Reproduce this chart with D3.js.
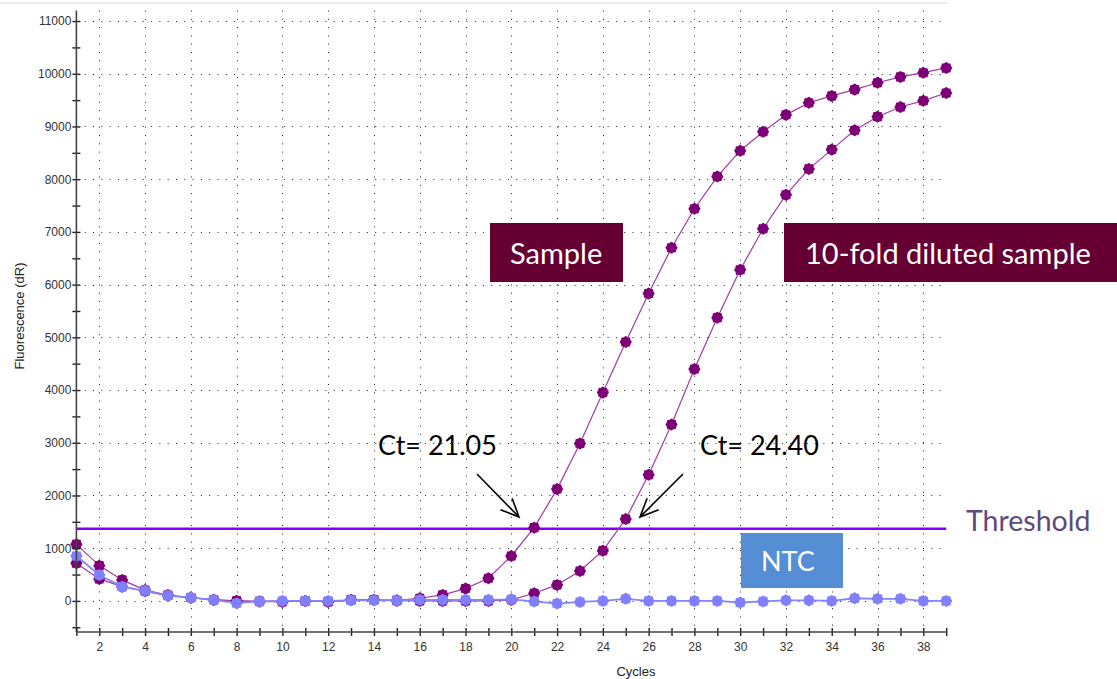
<!DOCTYPE html>
<html>
<head>
<meta charset="utf-8">
<script src="https://cdn.jsdelivr.net/npm/d3@7"></script>
<style>
    body { margin: 0; background: #ffffff; }
    #chart-svg { display: block; }
    .tick-label { font-family: "Liberation Sans", Arial, sans-serif; font-size: 12px; fill: #333; }
    .axis-title { font-family: "Liberation Sans", Arial, sans-serif; font-size: 13px; fill: #222; }
    .note { font-family: Lato, "Open Sans", sans-serif; }
</style>
</head>
<body>
<svg id="chart-svg" width="1117" height="679"></svg>
<script>
// Cycle numbers on the x axis
var cycles = [1, 2, 3, 4, 5, 6, 7, 8, 9, 10, 11, 12, 13, 14, 15, 16, 17, 18, 19, 20,
    21, 22, 23, 24, 25, 26, 27, 28, 29, 30, 31, 32, 33, 34, 35, 36, 37, 38, 39];

// Fluorescence (dR) per cycle
var sampleValues = [1073, 669, 398, 205, 110, 65, 20, 0, -10, -15, 0, -15, 20, 20, 10, 50,
    114, 233, 430, 852, 1389, 2121, 2986, 3952, 4911, 5830, 6700, 7440, 8050, 8540,
    8900, 9220, 9450, 9580, 9700, 9830, 9940, 10020, 10110];
var dilutedValues = [714, 417, 270, 185, 100, 60, 20, 0, -10, -15, 0, -15, 15, 15, 5, 0,
    0, 0, 0, 20, 146, 303, 568, 953, 1553, 2392, 3346, 4400, 5373, 6282,
    7059, 7703, 8195, 8561, 8927, 9186, 9369, 9489, 9634];
var ntcValues = [852, 492, 270, 192, 100, 63, 19, -44, -10, 0, 0, 0, 10, 10, 10, 20,
    20, 20, 20, 30, -10, -50, -20, 0, 40, 0, 0, 0, 0, -30, -10, 10, 10, 0, 50,
    40, 40, 0, 0];

var thresholdValue = 1370;

var yTickValues = [0, 1000, 2000, 3000, 4000, 5000, 6000, 7000, 8000, 9000, 10000, 11000];
var xTickLabels = [2, 4, 6, 8, 10, 12, 14, 16, 18, 20, 22, 24, 26, 28, 30, 32, 34, 36, 38];

var svg = d3.select('#chart-svg');

var x = d3.scaleLinear().domain([1, 39]).range([76.4, 946.2]);
var y = d3.scaleLinear().domain([-590, 11200]).range([632, 10.5]);

// light frame strip at the very top of the screenshot
svg.append('rect')
    .attr('x', 0).attr('y', 2).attr('width', 948).attr('height', 2)
    .attr('fill', '#ececec');

/**
 * Dotted grid: horizontal at every 1000, vertical at every even cycle.
 */
function drawGrid() {
    var g = svg.append('g').attr('class', 'grid');
    g.selectAll('line.h')
        .data(yTickValues)
        .enter().append('line')
        .attr('class', 'h')
        .attr('x1', x(1)).attr('x2', x(39))
        .attr('y1', function(d) { return Math.round(y(d)) + 0.5; })
        .attr('y2', function(d) { return Math.round(y(d)) + 0.5; });
    g.selectAll('line.v')
        .data(xTickLabels)
        .enter().append('line')
        .attr('class', 'v')
        .attr('y1', y.range()[1]).attr('y2', y.range()[0])
        .attr('x1', function(d) { return Math.round(x(d)) + 0.5; })
        .attr('x2', function(d) { return Math.round(x(d)) + 0.5; });
    g.selectAll('line')
        .style('stroke', '#222')
        .style('stroke-width', 1)
        .style('stroke-dasharray', '1,7.3');
}

/**
 * Axes with ticks crossing the axis line on both sides.
 */
function drawAxes() {
    var yAxis = d3.axisLeft(y)
        .tickValues(d3.range(-500, 11001, 500))
        .tickSize(4)
        .tickFormat(function(d) { return d % 1000 === 0 ? d : ''; });
    var gy = svg.append('g')
        .attr('transform', 'translate(' + x(1) + ',0)')
        .call(yAxis);
    gy.select('.domain').remove();
    gy.selectAll('.tick line').attr('x2', 4).attr('x1', -4)
        .style('stroke', '#222').style('stroke-width', 1.4);
    gy.selectAll('.tick text').attr('class', 'tick-label').attr('x', -5)
        .attr('font-family', null).attr('font-size', null);
    svg.append('line')
        .attr('x1', x(1)).attr('x2', x(1))
        .attr('y1', y.range()[1]).attr('y2', y.range()[0])
        .style('stroke', '#444').style('stroke-width', 1.6);

    var xAxis = d3.axisBottom(x)
        .tickValues(cycles)
        .tickSize(4)
        .tickFormat(function(d) { return d % 2 === 0 ? d : ''; });
    var gx = svg.append('g')
        .attr('transform', 'translate(0,' + y.range()[0] + ')')
        .call(xAxis);
    gx.select('.domain').remove();
    gx.selectAll('.tick line').attr('y1', -4).attr('y2', 4)
        .style('stroke', '#222').style('stroke-width', 1.4);
    gx.selectAll('.tick text').attr('class', 'tick-label').attr('y', 10)
        .attr('font-family', null).attr('font-size', null);
    svg.append('line')
        .attr('x1', x(1)).attr('x2', x(39) + 1)
        .attr('y1', y.range()[0]).attr('y2', y.range()[0])
        .style('stroke', '#444').style('stroke-width', 1.6);

    svg.append('text')
        .attr('class', 'axis-title')
        .attr('x', 636).attr('y', 676)
        .attr('text-anchor', 'middle')
        .text('Cycles');
    svg.append('text')
        .attr('class', 'axis-title')
        .attr('transform', 'translate(24,316) rotate(-90)')
        .attr('text-anchor', 'middle')
        .text('Fluorescence (dR)');
}

// Bumpy round marker, like the instrument software draws
var markerPath = (function() {
    var pts = [];
    for (var i = 0; i < 16; i++) {
        pts.push([i * Math.PI / 8, i % 2 === 0 ? 6.0 : 5.2]);
    }
    return d3.lineRadial().curve(d3.curveCardinalClosed)(pts);
})();

/**
 * Draws one amplification curve with its markers.
 */
function drawSeries(values, lineColor, lineWidth, markerColor) {
    var data = cycles.map(function(c, i) { return {c: c, v: values[i]}; });
    var g = svg.append('g');
    g.append('path')
        .datum(data)
        .attr('fill', 'none')
        .attr('stroke', lineColor)
        .attr('stroke-width', lineWidth)
        .attr('d', d3.line()
            .x(function(d) { return x(d.c); })
            .y(function(d) { return y(d.v); }));
    g.selectAll('path.pt')
        .data(data)
        .enter().append('path')
        .attr('class', 'pt')
        .attr('d', markerPath)
        .attr('fill', markerColor)
        .attr('transform', function(d) {
            return 'translate(' + x(d.c) + ',' + y(d.v) + ')';
        });
}

drawGrid();

// threshold line
svg.append('line')
    .attr('x1', x(1)).attr('x2', x(39))
    .attr('y1', y(thresholdValue)).attr('y2', y(thresholdValue))
    .style('stroke', '#8000ff').style('stroke-width', 2.6);

drawSeries(dilutedValues, '#a03ca0', 1.2, '#7d0077');
drawSeries(sampleValues, '#a03ca0', 1.2, '#7d0077');
drawSeries(ntcValues, '#8585ff', 1.8, '#8080ff');

drawAxes();

// ---- annotations ----
function labelBox(bx, by, bw, bh, fill, text, tx, baseline, size) {
    svg.append('rect')
        .attr('x', bx).attr('y', by).attr('width', bw).attr('height', bh)
        .attr('fill', fill);
    svg.append('text')
        .attr('class', 'note')
        .attr('x', tx).attr('y', baseline)
        .attr('font-size', size)
        .attr('fill', '#ffffff')
        .text(text);
}

labelBox(490, 223, 133, 59, '#660033', 'Sample', 510, 264, 29);
labelBox(784, 223, 333, 59, '#660033', '10-fold diluted sample', 805, 264, 29);
labelBox(741, 533, 102, 55, '#558ed5', 'NTC', 761, 571, 27);

svg.append('text')
    .attr('class', 'note')
    .attr('x', 966).attr('y', 531)
    .attr('font-size', 28.5)
    .attr('fill', '#604a7b')
    .text('Threshold');

svg.append('text')
    .attr('class', 'note')
    .attr('x', 378).attr('y', 455)
    .attr('font-size', 27)
    .attr('fill', '#000')
    .text('Ct= 21.05');
svg.append('text')
    .attr('class', 'note')
    .attr('x', 700).attr('y', 455)
    .attr('font-size', 27)
    .attr('fill', '#000')
    .text('Ct= 24.40');

// arrows pointing at the threshold crossings
function arrow(x1, y1, x2, y2) {
    var ang = Math.atan2(y2 - y1, x2 - x1);
    var len = 20, spread = 0.42;
    var d = 'M' + x1 + ',' + y1 + 'L' + x2 + ',' + y2 +
        'M' + (x2 - len * Math.cos(ang - spread)) + ',' + (y2 - len * Math.sin(ang - spread)) +
        'L' + x2 + ',' + y2 +
        'L' + (x2 - len * Math.cos(ang + spread)) + ',' + (y2 - len * Math.sin(ang + spread));
    svg.append('path')
        .attr('d', d)
        .attr('fill', 'none')
        .attr('stroke', '#000')
        .attr('stroke-width', 1.6);
}
arrow(477, 474, 519, 517);
arrow(683, 474, 640, 517);
</script>
</body>
</html>
